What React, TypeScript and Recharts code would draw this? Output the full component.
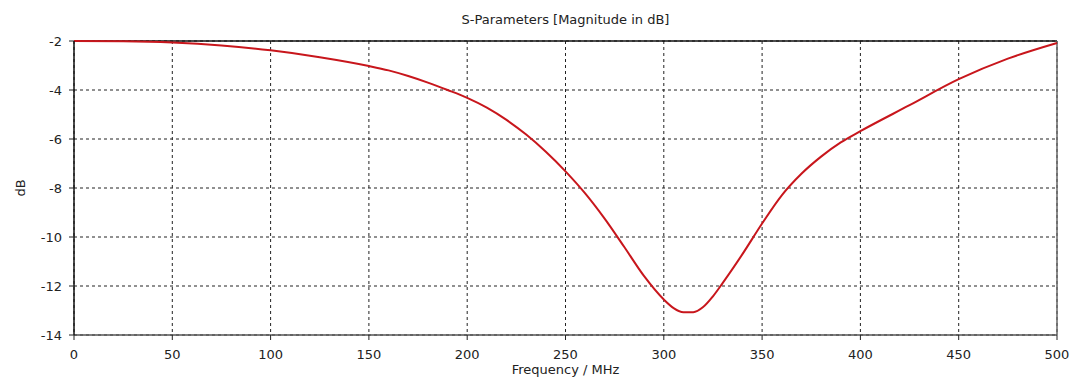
import { LineChart, Line, XAxis, YAxis, CartesianGrid, ReferenceLine } from 'recharts'

// S11 magnitude (MHz / dB)
const freqs = [0, 25, 50, 75, 100, 125, 150, 160, 170, 180, 190, 200, 210, 220, 230, 240, 250, 260, 270, 280, 290, 300, 305, 310, 315, 320, 325, 330, 340, 350, 360, 370, 380, 390, 400, 425, 450, 475, 500]
const magDb = [-2.0, -2.01, -2.06, -2.18, -2.38, -2.66, -3.02, -3.2, -3.43, -3.7, -4.0, -4.32, -4.72, -5.22, -5.82, -6.52, -7.32, -8.22, -9.26, -10.42, -11.6, -12.55, -12.9, -13.07, -13.07, -12.86, -12.42, -11.87, -10.7, -9.45, -8.3, -7.42, -6.72, -6.14, -5.68, -4.62, -3.56, -2.72, -2.08]

const xTicks = [0, 50, 100, 150, 200, 250, 300, 350, 400, 450, 500]
const yTicks = [-14, -12, -10, -8, -6, -4, -2]

const title = 'S-Parameters [Magnitude in dB]'
const xLabel = 'Frequency / MHz'
const yLabel = 'dB'

const chartData = freqs.map((f, i) => ({ f, db: magDb[i] }))

const font = '"DejaVu Sans", Verdana, sans-serif'
const tickStyle = { fontSize: 13, fill: '#222', fontFamily: font }

const YLabel = ({ viewBox }: any) => {
    const cx = viewBox.x + 20
    const cy = viewBox.y + viewBox.height / 2
    return (
        <text x={cx} y={cy} transform={`rotate(-90 ${cx} ${cy})`} textAnchor="middle" dominantBaseline="central"
            style={{ fontSize: 13, fill: '#222', fontFamily: font }}>
            {yLabel}
        </text>
    )
}

const XLabel = ({ viewBox }: any) => {
    const cx = viewBox.x + viewBox.width / 2
    return (
        <text x={cx} y={viewBox.y + 39} textAnchor="middle"
            style={{ fontSize: 13, fill: '#222', fontFamily: font }}>
            {xLabel}
        </text>
    )
}

export default function App() {
    return (
        <div style={{ position: 'absolute', left: 0, top: 0, width: 1072, height: 387, background: '#fff' }}>
            <div style={{
                position: 'absolute', left: 74, width: 983, top: 12, textAlign: 'center',
                fontSize: 13, lineHeight: '16px', color: '#222', fontFamily: font
            }}>
                {title}
            </div>
            <LineChart width={1072} height={387} data={chartData} margin={{ top: 41, right: 15, bottom: 0, left: 0 }}>
                <CartesianGrid stroke="#222" strokeDasharray="3 3" horizontalValues={yTicks} verticalValues={xTicks} />
                <XAxis
                    dataKey="f"
                    type="number"
                    domain={[0, 500]}
                    ticks={xTicks}
                    height={52}
                    tickSize={5}
                    tickMargin={10}
                    tick={tickStyle}
                    stroke="#555"
                    axisLine={{ stroke: '#555', strokeWidth: 1.5 }}
                    tickLine={{ stroke: '#222' }}
                    interval={0}
                    label={<XLabel />}
                />
                <YAxis
                    type="number"
                    domain={[-14, -2]}
                    ticks={yTicks}
                    width={74}
                    tickSize={5}
                    tickMargin={7}
                    tick={tickStyle}
                    axisLine={{ stroke: '#111', strokeWidth: 1.5 }}
                    tickLine={{ stroke: '#222' }}
                    interval={0}
                    label={<YLabel />}
                />
                <ReferenceLine y={-2} stroke="#111" strokeWidth={1.5} />
                <ReferenceLine x={500} stroke="#666" strokeWidth={1.5} />
                <Line
                    type="monotone"
                    dataKey="db"
                    stroke="#c8161c"
                    strokeWidth={2}
                    dot={false}
                    isAnimationActive={false}
                />
            </LineChart>
        </div>
    )
}
